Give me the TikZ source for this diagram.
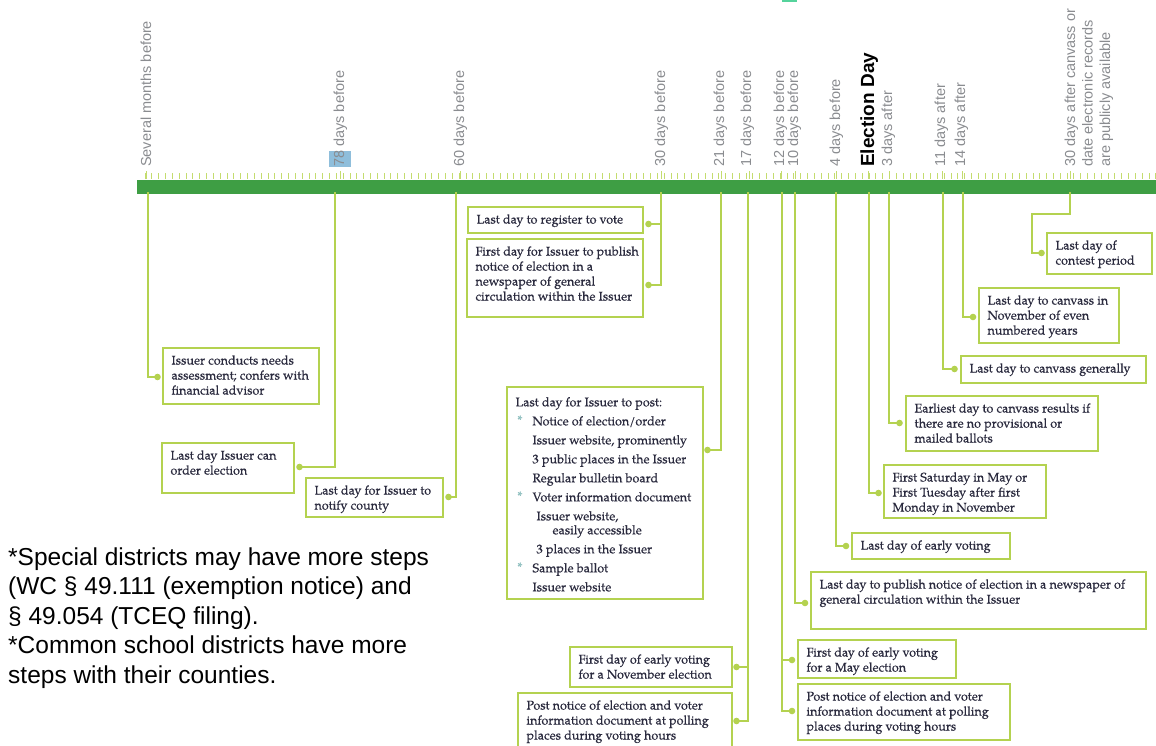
\documentclass[tikz,border=0pt]{standalone}
\usepackage{fontspec}
\setmainfont[FakeBold=0.3]{TeX Gyre Pagella}
\newfontfamily\lblfont{Liberation Sans}
\usetikzlibrary{calc}

\definecolor{bargreen}{RGB}{62,158,68}
\definecolor{lgreen}{RGB}{180,210,80}
\definecolor{tickgreen}{RGB}{196,220,110}
\definecolor{boxtext}{RGB}{42,42,62}
\definecolor{lblgray}{RGB}{138,140,144}
\definecolor{hilite}{RGB}{143,190,219}
\definecolor{bulletc}{RGB}{140,190,190}
\definecolor{tealmark}{RGB}{85,211,156}

\newcommand{\boxfnt}{\fontsize{12.6}{15}\selectfont}
\newcommand{\listfnt}{\fontsize{12.6}{19}\selectfont}
\newcommand{\lblfnt}{\lblfont\fontsize{14.5}{17.5}\selectfont}
\newcommand{\dayfnt}{\lblfont\bfseries\fontsize{19}{21}\selectfont}
\newcommand{\notefnt}{\lblfont\fontsize{24.5}{29.5}\selectfont}
% fixed-size, top-aligned box text: width, height (outer, in pt), text;
% lines are broken only where \\ is written
\newcommand{\bx}[3]{\parbox[t][\dimexpr#2pt-12pt\relax][t]{\dimexpr#1pt-17pt\relax}{%
  \hbox to\hsize{\vtop{\hsize=3\hsize\raggedright\strut#3}\hss}}}
\newcommand{\lstbul}{\makebox[17pt][l]{\hspace*{2pt}\color{bulletc}\raisebox{1pt}{*}}}
\newcommand{\indt}[1]{\hspace*{#1pt}}

\begin{document}
\begin{tikzpicture}[x=1pt,y=-1pt,
  conn/.style={draw=lgreen, line width=1.8pt},
  dot/.style={circle, fill=lgreen, inner sep=0pt, minimum size=6.6pt},
  evbox/.style={draw=lgreen, line width=1.8pt, fill=white, anchor=north west,
    inner xsep=8.5pt, inner ysep=6pt, outer sep=0pt, font=\boxfnt, text=boxtext},
  lbl/.style={rotate=90, anchor=base west, inner sep=0pt, font=\lblfnt, text=lblgray},
  tick/.style={draw=tickgreen, line width=0.8pt},
  bigtick/.style={draw=tickgreen, line width=1pt}]

\useasboundingbox (0,0) rectangle (1156,746);
\fill[tealmark] (782,0) rectangle (797,2.5);

% timeline bar with its ticks
\fill[bargreen] (137,180) rectangle (1156,194);
\foreach \i in {0,...,148} {\draw[tick] ({145+6.83*\i},173.5) -- ++(0,5.5);}
\foreach \t in {146,340,460,661,721,749,781,795,836,868,889,942,962,1070}
  {\draw[bigtick] (\t,171.5) -- (\t,179);}

% points on the timeline
\coordinate (eSev) at (148,192);
\coordinate (e78) at (335,192);
\coordinate (e60) at (456,192);
\coordinate (e30) at (661,192);
\coordinate (e21) at (721,192);
\coordinate (e17) at (748,192);
\coordinate (e12) at (782,192);
\coordinate (e10) at (795,192);
\coordinate (e4) at (836,192);
\coordinate (eED) at (869,192);
\coordinate (e3a) at (889,192);
\coordinate (e11a) at (943,192);
\coordinate (e14a) at (963,192);
\coordinate (e30a) at (1070,192);
\coordinate (j30a) at (1032,214);

% event boxes
\node[evbox] (b1) at (163,348) {\bx{156}{56}{Issuer conducts needs\\assessment; confers with\\financial advisor}};
\node[evbox] (b2) at (162,443) {\bx{132}{50}{Last day Issuer can\\order election}};
\node[evbox] (b3) at (306,478) {\bx{137}{39}{Last day for Issuer to\\notify county}};
\node[evbox] (b4) at (468,207) {\bx{175}{26}{Last day to register to vote}};
\node[evbox] (b5) at (467,239) {\bx{176}{78}{First day for Issuer to publish\\notice of election in a\\newspaper of general\\circulation within the Issuer}};
\node[evbox, font=\listfnt] (b6) at (507,387) {\bx{196}{212}{Last day for Issuer to post:\\
\lstbul Notice of election/order\\
\indt{17}Issuer website, prominently\\
\indt{17}3 public places in the Issuer\\
\indt{17}Regular bulletin board\\
\lstbul Voter information document\\
\indt{21}Issuer website,\\[-5pt]
\indt{37}easily accessible\\
\indt{21}3 places in the Issuer\\
\lstbul Sample ballot\\
\indt{17}Issuer website}};
\node[evbox] (b7) at (961,356) {\bx{185}{27}{Last day to canvass generally}};
\node[evbox] (b8) at (979,288) {\bx{140}{55}{Last day to canvass in\\November of even\\numbered years}};
\node[evbox] (b9) at (1047,233) {\bx{105}{41}{Last day of\\contest period}};
\node[evbox] (b10) at (906,396) {\bx{192}{55}{Earliest day to canvass results if\\there are no provisional or\\mailed ballots}};
\node[evbox] (b11) at (884,465) {\bx{162}{53}{First Saturday in May or\\First Tuesday after first\\Monday in November}};
\node[evbox] (b12) at (852,533) {\bx{158}{26}{Last day of early voting}};
\node[evbox] (b13) at (811,572) {\bx{335}{57}{Last day to publish notice of election in a newspaper of\\general circulation within the Issuer}};
\node[evbox] (b14) at (798,640) {\bx{158}{38}{First day of early voting\\for a May election}};
\node[evbox] (b15) at (798,684) {\bx{212}{56}{Post notice of election and voter\\information document at polling\\places during voting hours}};
\node[evbox] (b16) at (570,647) {\bx{162}{40}{First day of early voting\\for a November election}};
\node[evbox] (b17) at (518,693) {\bx{214}{57}{Post notice of election and voter\\information document at polling\\places during voting hours}};

% connectors from the timeline to the boxes
\draw[conn] (eSev) |- ([shift={(-5.5,29)}]b1.north west) node[dot] (d1) {};
\draw[conn] (e78) |- ([shift={(5.5,24)}]b2.north east) node[dot] (d2) {};
\draw[conn] (e60) |- ([shift={(5.5,19)}]b3.north east) node[dot] (d3) {};
\draw[conn] (e30) |- ([shift={(5.5,17)}]b4.north east) node[dot] (d4) {};
\draw[conn] (e30) |- ([shift={(5.5,46)}]b5.north east) node[dot] (d5) {};
\draw[conn] (e21) |- ([shift={(4.5,63)}]b6.north east) node[dot] (d6) {};
\draw[conn] (e11a) |- ([shift={(-6.5,13)}]b7.north west) node[dot] (d7) {};
\draw[conn] (e14a) |- ([shift={(-6,29)}]b8.north west) node[dot] (d8) {};
\draw[conn] (e30a) |- (j30a) |- ([shift={(-5.5,20)}]b9.north west) node[dot] (d9) {};
\draw[conn] (e3a) |- ([shift={(-6.5,27)}]b10.north west) node[dot] (d10) {};
\draw[conn] (eED) |- ([shift={(-5.5,28)}]b11.north west) node[dot] (d11) {};
\draw[conn] (e4) |- ([shift={(-6,13)}]b12.north west) node[dot] (d12) {};
\draw[conn] (e10) |- ([shift={(-6,31)}]b13.north west) node[dot] (d13) {};
\draw[conn] (e12) |- ([shift={(-6,20)}]b14.north west) node[dot] (d14) {};
\draw[conn] (e12) |- ([shift={(-6,27)}]b15.north west) node[dot] (d15) {};
\draw[conn] (e17) |- ([shift={(4.5,20)}]b16.north east) node[dot] (d16) {};
\draw[conn] (e17) |- ([shift={(4.5,28)}]b17.north east) node[dot] (d17) {};

% vertical time labels
\node[lbl] (lSev) at (151,167) {Several months before};
\node[lbl] (l78) at (344,167) {{\setlength{\fboxsep}{0pt}\colorbox{hilite}{\rule[-7pt]{0pt}{22pt}78}} days before};
\node[lbl] (l60) at (464,167) {60 days before};
\node[lbl] (l30) at (665,167) {30 days before};
\node[lbl] (l21) at (724,167) {21 days before};
\node[lbl] (l17) at (751,167) {17 days before};
\node[lbl] (l12) at (784,167) {12 days before};
\node[lbl] (l10) at (798,167) {10 days before};
\node[lbl] (l4) at (840,167) {4 days before};
\node[lbl, font=\dayfnt, text=black] (lED) at (874,167) {Election Day};
\node[lbl] (l3a) at (892,167) {3 days after};
\node[lbl] (l11a) at (945,167) {11 days after};
\node[lbl] (l14a) at (965,167) {14 days after};
\node[lbl, anchor=north west, align=left] (l30a) at (1064.5,167) {30 days after canvass or\\date electronic records\\are publicly available};

% footnote
\node[anchor=north west, align=left, inner sep=0pt, font=\notefnt, text=black] (note) at (8,544.3)
  {\strut*Special districts may have more steps\\(WC § 49.111 (exemption notice) and\\§ 49.054 (TCEQ filing).\\*Common school districts have more\\steps with their counties.};
\end{tikzpicture}
\end{document}
